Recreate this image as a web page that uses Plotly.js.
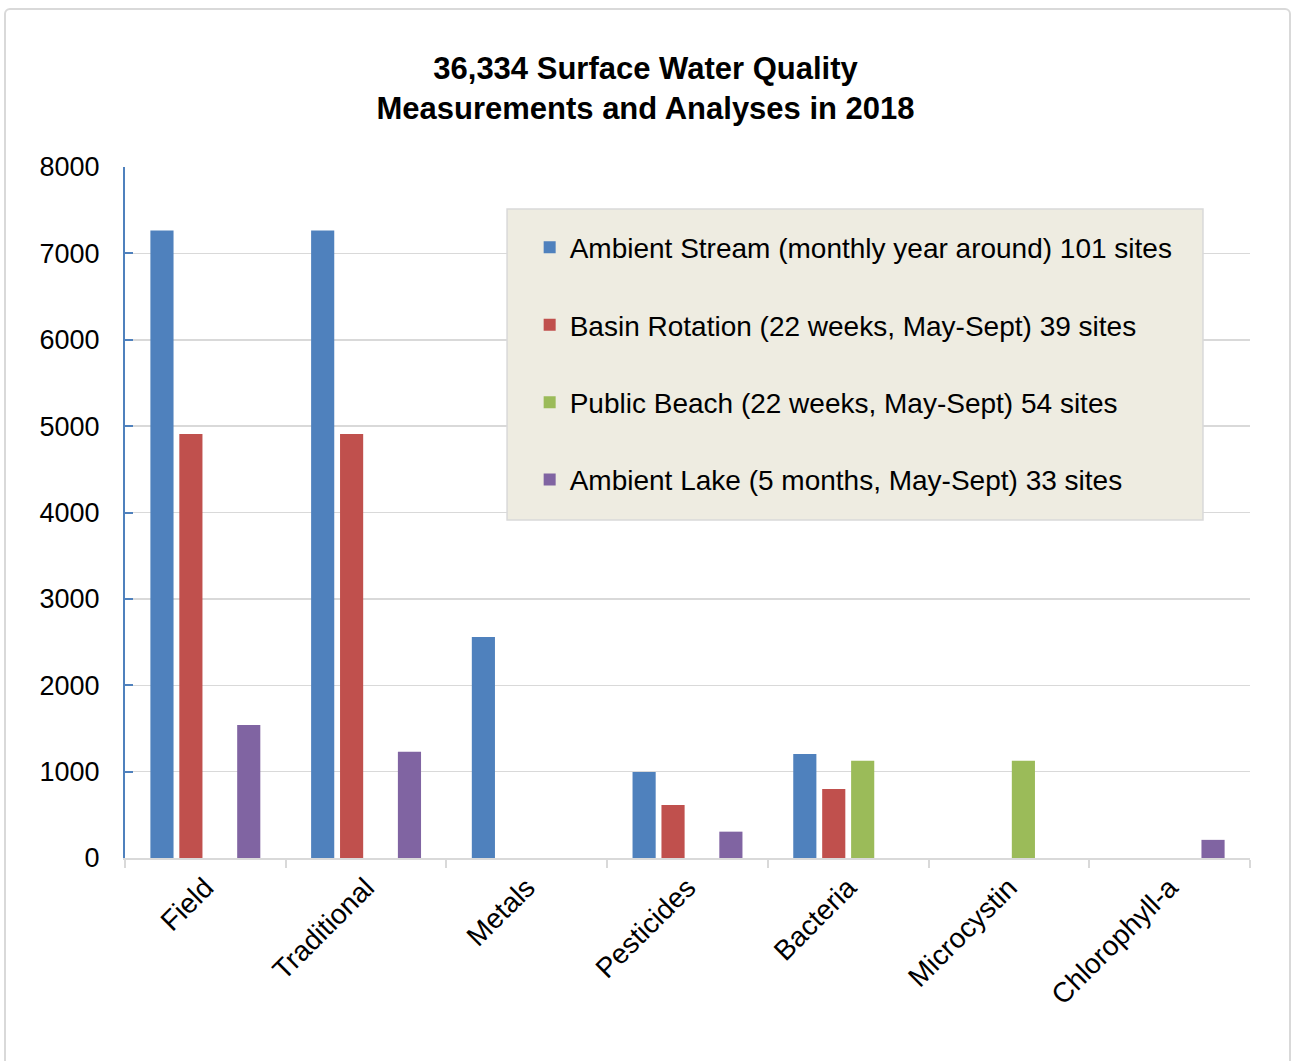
<!DOCTYPE html>
<html>
<head>
<meta charset="utf-8">
<script src="https://cdn.plot.ly/plotly-3.0.1.min.js"></script>
<style>
  html, body { margin: 0; padding: 0; background: #ffffff; }
  #chart { position: absolute; left: 0; top: 0; width: 1291px; height: 1061px; }
  #frame {
    position: absolute; left: 4px; top: 8px; width: 1283px; height: 1062px;
    border: 2px solid #d9d9d9; border-radius: 6px; pointer-events: none;
  }
</style>
</head>
<body>
<div id="chart"></div>
<div id="frame"></div>
<script>
// Measurement categories along the x axis
const categories = ["Field", "Traditional", "Metals", "Pesticides", "Bacteria", "Microcystin", "Chlorophyll-a"];

// Number of measurements per program (null = not sampled)
const ambientStream = [7265, 7265, 2560, 995, 1205, null, null];
const basinRotation = [4910, 4910, null, 615, 800, null, null];
const publicBeach   = [null, null, null, null, 1125, 1125, null];
const ambientLake   = [1540, 1230, null, 305, null, null, 210];

// Legend labels
const seriesNames = [
  "Ambient Stream (monthly year around) 101 sites",
  "Basin Rotation (22 weeks, May-Sept) 39 sites",
  "Public Beach (22 weeks, May-Sept) 54 sites",
  "Ambient Lake (5 months, May-Sept) 33 sites"
];

const seriesColors = ["#4f81bd", "#c0504d", "#9bbb59", "#8064a2"];
const seriesValues = [ambientStream, basinRotation, publicBeach, ambientLake];

const font = "Arial, 'Liberation Sans', Helvetica, sans-serif";

const traces = seriesValues.map((vals, i) => ({
  type: "bar",
  name: seriesNames[i],
  x: categories,
  y: vals,
  legendgroup: "g" + i,
  marker: { color: seriesColors[i], line: { width: 0 } },
  hoverinfo: "x+y+name"
}));

const layout = {
  width: 1291,
  height: 1061,
  paper_bgcolor: "rgba(0,0,0,0)",
  plot_bgcolor: "rgba(0,0,0,0)",
  margin: { l: 125, r: 41, t: 167, b: 203 },
  barmode: "group",
  bargap: 0.28,
  bargroupgap: 0.2,
  font: { family: font, color: "#000000" },
  title: {
    text: "<b>36,334 Surface Water Quality</b><br><b>Measurements and Analyses in 2018</b>",
    font: { family: font, size: 31, color: "#000000" },
    x: 0.5, xref: "container", xanchor: "center",
    y: 0.926, yref: "container", yanchor: "top"
  },
  xaxis: {
    type: "category",
    showline: true, linecolor: "#d9d9d9", linewidth: 2,
    ticks: "outside", tickson: "boundaries", ticklen: 8, tickcolor: "#d9d9d9", tickwidth: 2,
    tickangle: -45,
    tickfont: { family: font, size: 28, color: "#000000" },
    showgrid: false, zeroline: false
  },
  yaxis: {
    range: [0, 8000], dtick: 1000,
    showline: true, linecolor: "#4f81bd", linewidth: 2,
    ticks: "inside", ticklen: 8, tickcolor: "#4f81bd", tickwidth: 2,
    ticklabelstandoff: 18,
    tickfont: { family: font, size: 27, color: "#000000" },
    showgrid: true, gridcolor: "#d9d9d9", gridwidth: 1.5,
    zeroline: false
  },
  shapes: [{
    type: "rect", xref: "paper", yref: "paper",
    x0: 0.3396, x1: 0.9582, y0: 0.4891, y1: 0.9392,
    fillcolor: "#eeece1", line: { color: "#d9d9d9", width: 1.5 },
    layer: "above"
  }],
  legend: {
    x: 0.3597, xanchor: "left",
    y: 0.9195, yanchor: "top",
    bgcolor: "rgba(0,0,0,0)",
    borderwidth: 0,
    traceorder: "grouped",
    tracegroupgap: 38,
    font: { family: font, size: 28, color: "#000000" }
  },
  showlegend: true
};

Plotly.newPlot("chart", traces, layout, { displayModeBar: false, staticPlot: true });
</script>
</body>
</html>
